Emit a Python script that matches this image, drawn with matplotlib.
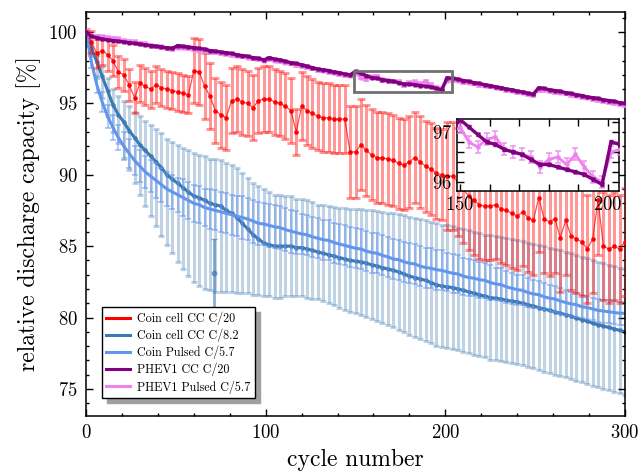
import numpy as np
import matplotlib
matplotlib.use("Agg")
import matplotlib.pyplot as plt
from matplotlib.patches import Rectangle
from matplotlib.ticker import MultipleLocator
from matplotlib.lines import Line2D

plt.rcParams['font.family'] = ['cmr10', 'DejaVu Serif']
plt.rcParams['mathtext.fontset'] = 'cm'
plt.rcParams['axes.formatter.use_mathtext'] = True

# ---------------- data (sampled every 3 cycles) ----------------
cycles = np.arange(0, 301, 3)

coin_cc20 = [100.0, 99.3, 98.5, 98.7, 98.4, 98.0, 97.2, 97.0, 96.3, 95.4,
             96.4, 96.2, 96.0, 96.3, 96.1, 96.0, 95.9, 95.8, 95.7, 95.6,
             97.3, 97.2, 96.2, 95.5, 94.5, 94.2, 94.0, 95.2, 95.3, 95.1,
             95.0, 94.7, 95.2, 95.3, 95.3, 95.1, 95.0, 94.8, 94.5, 93.0,
             94.8, 94.5, 94.3, 94.1, 94.0, 94.0, 93.9, 93.9, 93.9, 91.6,
             91.6, 92.1, 91.7, 91.4, 91.2, 91.2, 91.1, 91.0, 90.8, 90.7,
             90.9, 91.2, 90.9, 90.6, 90.4, 90.1, 90.0, 89.9, 89.9, 89.5,
             89.0, 88.5, 88.2, 87.9, 87.8, 87.8, 87.9, 87.6, 87.5, 87.3,
             87.1, 87.4, 87.0, 86.8, 88.4, 86.9, 86.7, 86.9, 85.6, 86.8,
             85.7, 85.5, 85.3, 84.8, 85.5, 88.2, 85.0, 84.8, 85.0, 84.8,
             85.3]
coin_cc20_err = [0.2, 0.8, 1.0, 1.0, 1.1, 1.1, 1.1, 1.1, 1.1, 1.1,
                 1.3, 1.3, 1.3, 1.3, 1.3, 1.3, 1.3, 1.3, 1.3, 1.3,
                 2.3, 2.3, 2.3, 2.3, 2.3, 2.3, 2.3, 2.3, 2.3, 2.3,
                 2.3, 2.3, 2.3, 2.3, 2.3, 2.3, 2.3, 2.3, 2.3, 1.6,
                 2.4, 2.4, 2.4, 2.4, 2.4, 2.4, 2.4, 2.4, 2.4, 3.2,
                 3.2, 3.2, 3.2, 3.2, 3.2, 3.2, 3.2, 3.2, 3.2, 3.2,
                 3.2, 3.2, 3.2, 3.2, 3.2, 3.2, 3.2, 3.8, 3.8, 3.8,
                 3.8, 3.8, 3.8, 3.8, 3.8, 3.8, 3.8, 3.8, 3.8, 3.8,
                 3.8, 3.8, 3.8, 3.8, 3.8, 3.8, 3.8, 3.8, 3.8, 3.8,
                 3.8, 3.8, 3.8, 3.8, 3.8, 3.8, 3.8, 3.8, 3.8, 3.8,
                 3.8]

coin_cc82 = [100.0, 98.9, 97.9, 96.9, 95.9, 94.9, 94.2, 93.7, 93.1, 92.6,
             92.1, 91.7, 91.3, 90.9, 90.5, 90.0, 89.7, 89.4, 89.1, 88.8,
             88.5, 88.4, 88.2, 88.0, 87.9, 87.8, 87.5, 87.3, 87.0, 86.6,
             86.2, 85.8, 85.5, 85.2, 85.1, 85.0, 85.0, 85.0, 85.0, 84.9,
             84.9, 84.8, 84.7, 84.6, 84.5, 84.4, 84.3, 84.2, 84.1, 84.0,
             83.95, 83.9, 83.8, 83.7, 83.6, 83.5, 83.4, 83.3, 83.2, 83.05,
             82.9, 82.8, 82.7, 82.6, 82.45, 82.3, 82.2, 82.15, 82.1, 82.0,
             81.9, 81.8, 81.7, 81.6, 81.5, 81.4, 81.35, 81.3, 81.2, 81.15,
             81.1, 81.0, 80.9, 80.8, 80.7, 80.6, 80.5, 80.4, 80.3, 80.2,
             80.1, 79.95, 79.85, 79.75, 79.6, 79.5, 79.4, 79.3, 79.2, 79.1,
             79.0]
coin_cc82_err_low = [0.0, 0.6, 1.1, 1.5, 1.8, 1.9, 2.0, 2.5, 2.8, 3.2,
                     3.5, 3.9, 4.2, 4.5, 4.8, 4.9, 5.2, 5.5, 5.7, 5.9,
                     6.0, 6.2, 6.2, 6.1, 6.1, 6.0, 5.7, 5.5, 5.3, 4.9,
                     4.5, 4.2, 3.9, 3.7, 3.6, 3.6, 3.6, 3.5, 3.5, 3.4,
                     3.4, 3.4, 3.4, 3.3, 3.35, 3.4, 3.45, 3.5, 3.55, 3.6,
                     3.65, 3.7, 3.75, 3.8, 3.85, 3.9, 3.95, 4.0, 4.05, 4.1,
                     4.15, 4.2, 4.2, 4.25, 4.25, 4.3, 4.3, 4.3, 4.3, 4.3,
                     4.3, 4.3, 4.3, 4.3, 4.3, 4.35, 4.35, 4.35, 4.35, 4.35,
                     4.35, 4.35, 4.35, 4.35, 4.35, 4.4, 4.4, 4.4, 4.4, 4.4,
                     4.4, 4.4, 4.4, 4.4, 4.4, 4.4, 4.4, 4.4, 4.4, 4.4,
                     4.4]
coin_cc82_err_up = [0.0, 0.3, 0.5, 0.7, 0.9, 1.1, 1.3, 1.5, 1.7, 1.8,
                    2.0, 2.1, 2.2, 2.3, 2.4, 2.5, 2.6, 2.7, 2.8, 2.9,
                    3.0, 3.0, 3.1, 3.1, 3.2, 3.2, 3.3, 3.4, 3.5, 3.5,
                    3.6, 3.6, 3.7, 3.8, 3.7, 3.6, 3.6, 3.5, 3.5, 3.4,
                    3.4, 3.4, 3.4, 3.3, 3.35, 3.4, 3.45, 3.5, 3.55, 3.6,
                    3.65, 3.7, 3.75, 3.8, 3.85, 3.9, 3.95, 4.0, 4.05, 4.1,
                    4.15, 4.2, 4.2, 4.25, 4.25, 4.3, 4.3, 4.3, 4.3, 4.3,
                    4.3, 4.3, 4.3, 4.3, 4.3, 4.35, 4.35, 4.35, 4.35, 4.35,
                    4.35, 4.35, 4.35, 4.35, 4.35, 4.4, 4.4, 4.4, 4.4, 4.4,
                    4.4, 4.4, 4.4, 4.4, 4.4, 4.4, 4.4, 4.4, 4.4, 4.4,
                    4.4]
cc82_outlier_cycle = [71]
cc82_outlier_value = [83.1]
cc82_outlier_err = [2.4]

coin_pulsed = [100.0, 97.9, 96.3, 95.1, 94.1, 93.3, 92.6, 92.0, 91.5, 91.0,
               90.6, 90.2, 89.9, 89.6, 89.3, 89.0, 88.8, 88.6, 88.4, 88.2,
               88.0, 87.9, 87.7, 87.6, 87.5, 87.4, 87.3, 87.2, 87.1, 87.0,
               86.9, 86.75, 86.6, 86.55, 86.45, 86.35, 86.3, 86.15, 86.05, 85.95,
               85.85, 85.8, 85.65, 85.55, 85.45, 85.4, 85.25, 85.15, 85.05, 84.95,
               84.85, 84.8, 84.65, 84.55, 84.5, 84.35, 84.25, 84.1, 84.05, 83.9,
               83.8, 83.75, 83.6, 83.5, 83.45, 83.35, 83.3, 83.2, 83.1, 83.05,
               82.9, 82.8, 82.75, 82.65, 82.6, 82.45, 82.35, 82.3, 82.15, 82.05,
               81.95, 81.9, 81.75, 81.65, 81.6, 81.45, 81.35, 81.3, 81.15, 81.05,
               80.95, 80.9, 80.75, 80.7, 80.6, 80.5, 80.45, 80.4, 80.35, 80.3,
               80.3]
coin_pulsed_err = [0.0, 0.4, 0.6, 0.7, 0.8, 0.9, 0.9, 1.0, 1.0, 1.0,
                   1.1, 1.1, 1.1, 1.2, 1.2, 1.2, 1.2, 1.2, 1.3, 1.3,
                   1.3, 1.3, 1.3, 1.4, 1.4, 1.4, 1.4, 1.4, 1.4, 1.5,
                   1.5, 1.5, 1.5, 1.5, 1.5, 1.5, 1.5, 1.5, 1.5, 1.5,
                   1.4, 1.4, 1.4, 1.4, 1.4, 1.4, 1.4, 1.4, 1.4, 1.4,
                   1.4, 1.4, 1.4, 1.4, 1.4, 1.4, 1.4, 1.4, 1.4, 1.4,
                   1.4, 1.4, 1.4, 1.4, 1.4, 1.4, 1.4, 1.35, 1.35, 1.3,
                   1.3, 1.3, 1.25, 1.25, 1.2, 1.2, 1.15, 1.15, 1.1, 1.1,
                   1.05, 1.05, 1.0, 1.0, 0.95, 0.95, 0.9, 0.9, 0.9, 0.85,
                   0.85, 0.85, 0.8, 0.8, 0.8, 0.8, 0.8, 0.8, 0.8, 0.8,
                   0.8]

phev_cc20 = [100.0, 99.7, 99.6, 99.5, 99.45, 99.4, 99.35, 99.3, 99.25, 99.2,
             99.15, 99.1, 99.05, 99.0, 98.95, 98.9, 98.85, 99.05, 99.0, 98.95,
             98.9, 98.85, 98.8, 98.7, 98.65, 98.6, 98.55, 98.5, 98.4, 98.35,
             98.3, 98.2, 98.15, 98.05, 98.2, 98.1, 98.05, 97.95, 97.85, 97.8,
             97.7, 97.6, 97.5, 97.4, 97.35, 97.3, 97.2, 97.15, 97.05, 97.0,
             97.25, 97.1, 96.95, 96.8, 96.75, 96.65, 96.6, 96.55, 96.45, 96.35,
             96.35, 96.3, 96.25, 96.2, 96.15, 96.05, 95.95, 96.8, 96.75, 96.7,
             96.6, 96.55, 96.45, 96.4, 96.3, 96.25, 96.15, 96.1, 96.0, 95.95,
             95.85, 95.8, 95.7, 95.65, 96.1, 96.05, 95.95, 95.9, 95.85, 95.75,
             95.7, 95.6, 95.55, 95.45, 95.4, 95.35, 95.25, 95.2, 95.15, 95.05,
             95.0]
phev_cc20_err = [0.03] * 101

phev_pulsed = [100.0, 99.75, 99.7, 99.65, 99.6, 99.55, 99.5, 99.4, 99.35, 99.3,
               99.2, 99.15, 99.05, 99.0, 98.95, 98.85, 98.8, 98.9, 98.9, 98.85,
               98.8, 98.7, 98.7, 98.6, 98.6, 98.5, 98.45, 98.4, 98.35, 98.3,
               98.2, 98.15, 98.1, 98.0, 98.1, 98.0, 97.95, 97.85, 97.8, 97.7,
               97.6, 97.55, 97.45, 97.35, 97.3, 97.2, 97.15, 97.05, 97.0, 96.95,
               97.1, 96.8, 96.7, 96.85, 96.9, 96.65, 96.6, 96.55, 96.5, 96.3,
               96.45, 96.5, 96.35, 96.55, 96.3, 96.1, 96.0, 96.6, 96.65, 96.6,
               96.5, 96.45, 96.4, 96.3, 96.25, 96.2, 96.1, 96.05, 95.95, 95.9,
               95.8, 95.75, 95.65, 95.6, 95.95, 95.95, 95.85, 95.8, 95.75, 95.7,
               95.6, 95.55, 95.45, 95.4, 95.3, 95.25, 95.15, 95.1, 95.0, 94.95,
               94.9]
phev_pulsed_err = [0.12] * 101

labels = ["Coin cell CC C/20", "Coin cell CC C/8.2", "Coin Pulsed C/5.7",
          "PHEV1 CC C/20", "PHEV1 Pulsed C/5.7"]
colors = ["#ff0000", "#3d7ab3", "#6495ed", "#800080", "#ee82ee"]

# ---------------- figure ----------------
fig = plt.figure(figsize=(6.42, 4.75), dpi=100)
ax = fig.add_axes([0.134, 0.1242, 0.8395, 0.8505])


def draw_series(a, x, y, e, color, ms, lw, elw, ealpha, cap, z, mk='o',
                lalpha=1.0):
    a.errorbar(x, y, yerr=e, fmt='none', ecolor=color, elinewidth=elw,
               capsize=cap, capthick=elw, alpha=ealpha, zorder=z)
    a.plot(x, y, color=color, lw=lw, alpha=lalpha, zorder=z + 0.4)
    if ms > 0:
        a.plot(x, y, ls='none', marker=mk, ms=ms, color=color,
               mec='none', zorder=z + 0.5)


def draw_all(a, scale=1.0):
    draw_series(a, cycles, coin_cc82, [coin_cc82_err_low, coin_cc82_err_up],
                colors[1], 3.2, 2.2, 2.2, 0.33, 2.2, 1)
    a.errorbar(cc82_outlier_cycle, cc82_outlier_value, yerr=cc82_outlier_err,
               fmt='o', color=colors[1], ms=3.2, elinewidth=2.0, capsize=2.5,
               alpha=0.6, zorder=1.2)
    draw_series(a, cycles, coin_pulsed, coin_pulsed_err, colors[2],
                0, 2.2, 1.4, 0.5, 2.2, 2)
    draw_series(a, cycles, coin_cc20, coin_cc20_err, colors[0],
                3.3, 0.9, 2.2, 0.4, 2.8, 3, lalpha=0.7)
    draw_series(a, cycles, phev_pulsed, phev_pulsed_err, colors[4],
                2.5 * scale, 2.0, 1.2, 0.8, 2.5, 4, mk='s')
    draw_series(a, cycles, phev_cc20, phev_cc20_err, colors[3],
                2.4 * scale, 2.4, 1.0, 0.9, 1.5, 5, mk='s')


draw_all(ax)

ax.set_xlim(0, 300)
ax.set_ylim(73.1, 101.4)
ax.xaxis.set_major_locator(MultipleLocator(100))
ax.xaxis.set_minor_locator(MultipleLocator(20))
ax.yaxis.set_major_locator(MultipleLocator(5))
ax.yaxis.set_minor_locator(MultipleLocator(1))
ax.tick_params(which='both', direction='in', top=True, right=True, width=1.0,
               labelsize=13.5)
ax.tick_params(which='major', length=5, pad=6)
ax.tick_params(which='minor', length=2.5)
for s in ax.spines.values():
    s.set_linewidth(1.1)
ax.set_xlabel("cycle number", fontsize=17, labelpad=5)
ax.set_ylabel("relative discharge capacity [%]", fontsize=17, labelpad=5)

proxies = [Line2D([], [], color=c, lw=2.2) for c in colors]
leg = ax.legend(proxies, labels, loc='lower left', bbox_to_anchor=(0.029, 0.045),
                borderaxespad=0.0,
                fontsize=8.7, frameon=True, fancybox=False,
                shadow={'color': '#a0a0a0', 'alpha': 1.0, 'ox': 3.5, 'oy': -3.5},
                edgecolor='black', framealpha=1, handlelength=2.0,
                borderpad=0.35, labelspacing=0.3, handletextpad=0.6)
leg.get_frame().set_linewidth(1.0)

# ---------------- inset ----------------
ins = fig.add_axes([0.7118, 0.5979, 0.2523, 0.1516])
draw_all(ins, scale=1.3)
ins_xlim = (149.0, 203.7)
ins_ylim = (95.82, 97.26)
ins.set_xlim(*ins_xlim)
ins.set_ylim(*ins_ylim)
ins.xaxis.set_major_locator(MultipleLocator(50))
ins.xaxis.set_minor_locator(MultipleLocator(10))
ins.yaxis.set_major_locator(MultipleLocator(1))
ins.yaxis.set_minor_locator(MultipleLocator(0.2))
ins.tick_params(which='both', direction='in', top=True, right=True, width=1.0,
                labelsize=13.5)
ins.tick_params(which='major', length=5)
ins.tick_params(which='minor', length=5)
for s in ins.spines.values():
    s.set_linewidth(1.1)

rect = Rectangle((ins_xlim[0], ins_ylim[0]), ins_xlim[1] - ins_xlim[0],
                 ins_ylim[1] - ins_ylim[0], fill=False, edgecolor='#707070',
                 lw=2.0, zorder=10)
ax.add_patch(rect)

fig.savefig("out.png", dpi=100)
